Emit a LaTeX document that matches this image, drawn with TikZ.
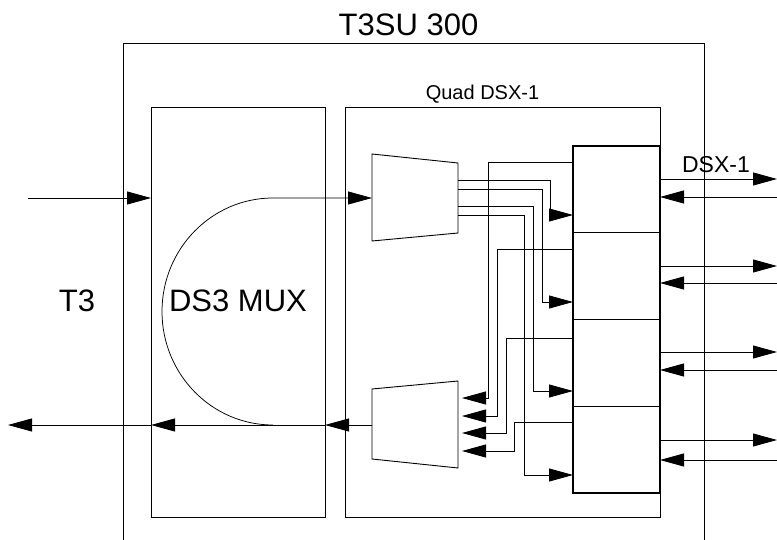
\documentclass[tikz,border=0pt]{standalone}
\usepackage{fontspec}
\setmainfont{Liberation Sans}
\usetikzlibrary{positioning,arrows.meta,calc}

\tikzset{
  box/.style={draw,line width=0.9pt,inner sep=0pt,outer sep=0pt},
  blk/.style={draw,line width=1.1pt,inner sep=0pt,outer sep=0pt,minimum width=87pt,minimum height=86.75pt},
  arr/.style={-{Triangle[length=24pt,width=13pt]},line width=0.9pt},
  big/.style={font=\fontsize{31pt}{36pt}\selectfont,inner sep=0pt},
}

\begin{document}
\begin{tikzpicture}[x=1pt,y=-1pt,line width=0.9pt]
  \useasboundingbox (0,0) rectangle (777,540);
  % enclosure, open at the bottom
  \draw (123,545) |- (704,43) -- (704,545);
  \node[big,anchor=base] (title) at (408.5,36) {T3SU 300};
  \node[box,minimum width=174pt,minimum height=410pt] (ds3) at (238,312) {};
  \node[box,minimum width=315pt,minimum height=410pt] (quad) at (502.5,312) {};
  \node[anchor=base,inner sep=0pt,font=\fontsize{20pt}{24pt}\selectfont] (quad-lbl) at (482.5,100) {Quad DSX-1};
  \node[big,anchor=base] (t3) at (77,312) {T3};
  \node[big,anchor=base] (ds3-lbl) at (238,312) {DS3 MUX};
  % four DSX-1 ports
  \node[blk] (b1) at (616.5,189.375) {};
  \node[blk,below=0pt of b1] (b2) {};
  \node[blk,below=0pt of b2] (b3) {};
  \node[blk,below=0pt of b3] (b4) {};
  \draw[line width=2pt] (b1.north east) -- (b4.south east);
  \node[anchor=base,inner sep=0pt,font=\fontsize{23pt}{27pt}\selectfont] (dsx-lbl) at (716,173) {DSX-1};
  % demux and mux
  \coordinate (dmx-nw) at (372,154); \coordinate (dmx-ne) at (458,163);
  \coordinate (dmx-se) at (458,233); \coordinate (dmx-sw) at (372,241);
  \draw (dmx-nw) -- (dmx-ne) -- (dmx-se) -- (dmx-sw) -- cycle;
  \coordinate (mux-nw) at (372,389); \coordinate (mux-ne) at (458,381);
  \coordinate (mux-se) at (458,468); \coordinate (mux-sw) at (372,459);
  \draw (mux-nw) -- (mux-ne) -- (mux-se) -- (mux-sw) -- cycle;
  \coordinate (dmx-in) at (372,198); \coordinate (mux-out) at (372,425);
  \coordinate (mux-tip) at (462,0);
  % T3 side
  \coordinate (t3in) at (28,198); \coordinate (t3out) at (8,425);
  \coordinate (loop) at (273,425);
  \draw[arr] (t3in) -- (t3in -| ds3.west);
  \draw[arr,line width=0.75pt] (loop) arc[start angle=90,end angle=270,x radius=111,y radius=113.5] -- (dmx-in);
  \draw[arr] (mux-out) -- (mux-out -| ds3.east);
  \draw[arr] (mux-out -| ds3.east) -- (mux-out -| ds3.west);
  \draw[arr] (mux-out -| ds3.west) -- (t3out);
  % demux to ports
  \foreach \b/\yo/\xv/\yi in {b1/180/550/215, b2/189/542/302, b3/206/533/391, b4/215/524/475}
    \draw[arr] (dmx-ne |- 0,\yo) -| (\xv,\yi) -- (\b.west |- 0,\yi);
  % ports to mux
  \foreach \b/\yo/\xv/\yi in {b1/162/488/398, b2/249/497/416, b3/338/506/433, b4/422/514/451}
    \draw[arr] (\b.west |- 0,\yo) -| (\xv,\yi) -- (mux-tip |- 0,\yi);
  % DSX-1 lines
  \coordinate (edge) at (777,0);
  \foreach \b/\yo/\yi in {b1/179/197, b2/266/283, b3/352/370, b4/440/460}{
    \draw[arr] (\b.east |- 0,\yo) -- (edge |- 0,\yo);
    \draw[arr] (edge |- 0,\yi) -- (\b.east |- 0,\yi);
  }
\end{tikzpicture}
\end{document}
